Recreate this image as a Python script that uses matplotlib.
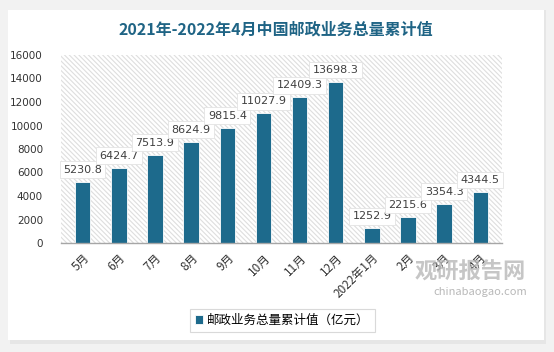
import matplotlib.pyplot as plt
from matplotlib.patches import Rectangle
import matplotlib as mpl

plt.rcParams['font.family'] = ['Noto Sans CJK SC', 'DejaVu Sans']
mpl.rcParams['hatch.color'] = '#dedede'
mpl.rcParams['hatch.linewidth'] = 0.8

months = ['5月', '6月', '7月', '8月', '9月', '10月', '11月', '12月',
          '2022年1月', '2月', '3月', '4月']
values = [5230.8, 6424.7, 7513.9, 8624.9, 9815.4, 11027.9, 12409.3, 13698.3,
          1252.9, 2215.6, 3354.3, 4344.5]
label_txt = ['5230.8', '6424.7', '7513.9', '8624.9', '9815.4', '11027.9', '12409.3',
             '13698.3', '1252.9', '2215.6', '3354.3', '4344.5']
yticks = [0, 2000, 4000, 6000, 8000, 10000, 12000, 14000, 16000]

bar_color = '#1d6a8c'

fig = plt.figure(figsize=(5.54, 3.52), dpi=100)
fig.patch.set_facecolor('#f2f2f2')

# white card with soft shadow
fig.patches.append(Rectangle((10 / 554, 1 - 344 / 352), 536 / 554, 334 / 352,
                             transform=fig.transFigure, facecolor='#e6e6e6',
                             edgecolor='none', zorder=-2))
fig.patches.append(Rectangle((8 / 554, 1 - 340 / 352), 536 / 554, 330 / 352,
                             transform=fig.transFigure, facecolor='white',
                             edgecolor='none', zorder=-1))

ax = fig.add_axes([61 / 554, 1 - 243 / 352, 441 / 554, 188 / 352])
ax.set_zorder(1)
ax.set_facecolor('none')
ax.add_patch(Rectangle((0, 0), 1, 1, transform=ax.transAxes, facecolor='white',
                       edgecolor='#dedede', hatch='\\' * 7, linewidth=0, zorder=0))

x = range(len(months))
ax.bar(x, values, width=0.43, color=bar_color, edgecolor='white', linewidth=0.6,
       zorder=2, label='邮政业务总量累计值（亿元）')

for i, v in enumerate(values):
    ax.annotate(label_txt[i], (i, v), xytext=(0, 5), textcoords='offset points',
                ha='center', va='bottom', fontsize=8, color='#404040', zorder=4,
                family='DejaVu Sans',
                bbox=dict(boxstyle='square,pad=0.3', facecolor='white',
                          edgecolor='#e3e3e3', linewidth=0.6))

ax.set_xlim(-0.6, len(months) - 0.4)
ax.set_ylim(0, 16000)
ax.set_yticks(yticks)
ax.set_yticklabels([str(t) for t in yticks], fontsize=7.5, color='#333333',
                   family='DejaVu Sans')
ax.set_xticks(list(x))
ax.set_xticklabels(months, rotation=45, ha='right', rotation_mode='anchor',
                   fontsize=8.5, color='#333333')
ax.tick_params(axis='both', length=0)
ax.tick_params(axis='y', pad=13)
ax.tick_params(axis='x', pad=6)
for s in ['top', 'right', 'left']:
    ax.spines[s].set_visible(False)
ax.spines['bottom'].set_color('#a6a6a6')
ax.spines['bottom'].set_linewidth(1.0)
ax.spines['bottom'].set_zorder(3)

fig.text(0.497, 1 - 30 / 352, '2021年-2022年4月中国邮政业务总量累计值',
         ha='center', va='center', fontsize=11.5, fontweight='bold', color='#1f6485')

leg = fig.legend(loc='center', bbox_to_anchor=(282 / 554, 1 - 320 / 352),
                 fontsize=9, frameon=True, fancybox=False, handlelength=0.7,
                 handleheight=0.7, handletextpad=0.3, borderpad=0.4)
leg.get_frame().set_edgecolor('#d0d0d0')
leg.get_frame().set_linewidth(0.8)

# watermark
fig.text(470 / 554, 1 - 272 / 352, '观研报告网', ha='center', va='center',
         fontsize=16, fontweight='bold', color='#b8b8b8', alpha=0.8, zorder=5)
fig.text(480 / 554, 1 - 292 / 352, 'chinabaogao.com', ha='center', va='center',
         fontsize=8, color='#b0b0b0', alpha=0.9, zorder=5)

fig.savefig('out.png', dpi=100, facecolor=fig.get_facecolor())
